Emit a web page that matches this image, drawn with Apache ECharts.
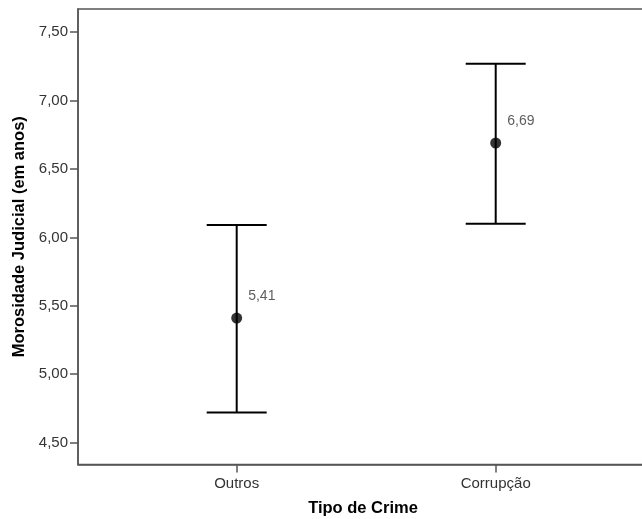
<!DOCTYPE html>
<html>
<head>
<meta charset="utf-8">
<script src="https://cdn.jsdelivr.net/npm/echarts@6/dist/echarts.min.js"></script>
<style>html,body{margin:0;padding:0;background:#fff;}#c{width:642px;height:519px;}</style>
</head>
<body>
<div id="c"></div>
<script>
var categories = ['Outros', 'Corrupção'];
var means = [5.41, 6.69];
var lowers = [4.72, 6.10];
var uppers = [6.09, 7.27];
var yTicks = [4.5, 5.0, 5.5, 6.0, 6.5, 7.0, 7.5];

var fmt = function (v) { return v.toFixed(2).replace('.', ','); };
var FONT = 'Liberation Sans, Arial, sans-serif';

var errData = categories.map(function (c, i) { return [i, lowers[i], uppers[i]]; });
var meanData = categories.map(function (c, i) { return [i, means[i]]; });

var chart = echarts.init(document.getElementById('c'), null, {renderer: 'canvas'});
chart.setOption({
  animation: false,
  backgroundColor: '#fff',
  grid: {left: 78, right: -6, top: 9, bottom: 54.5, outerBoundsMode: 'none', containLabel: false,
         show: true, borderColor: '#555', borderWidth: 1.5, backgroundColor: 'transparent'},
  xAxis: {
    type: 'value',
    min: -0.6127, max: 1.588,
    name: 'Tipo de Crime',
    nameLocation: 'middle',
    nameGap: 35,
    nameTextStyle: {fontFamily: FONT, fontSize: 16.5, fontWeight: 'bold', color: '#000'},
    axisLine: {show: true, onZero: false, lineStyle: {color: '#555', width: 1.5}},
    axisTick: {show: true, length: 8, customValues: [0, 1], lineStyle: {color: '#555', width: 1.5}},
    axisLabel: {customValues: [0, 1], margin: 12, fontFamily: FONT, fontSize: 15, color: '#333',
      formatter: function (v) { return categories[Math.round(v)] || ''; }},
    splitLine: {show: false}
  },
  yAxis: {
    type: 'value',
    min: 4.339, max: 7.670,
    name: 'Morosidade Judicial (em anos)',
    nameLocation: 'middle',
    nameGap: 47,
    nameRotate: 90,
    nameTextStyle: {fontFamily: FONT, fontSize: 16.5, fontWeight: 'bold', color: '#000'},
    axisLine: {show: true, onZero: false, lineStyle: {color: '#555', width: 1.5}},
    axisTick: {show: true, length: 8, customValues: yTicks, lineStyle: {color: '#555', width: 1.5}},
    axisLabel: {customValues: yTicks, margin: 10, fontFamily: FONT, fontSize: 15, color: '#333',
      formatter: function (v) { return fmt(v); }},
    splitLine: {show: false}
  },
  series: [
    {
      type: 'custom',
      data: errData,
      renderItem: function (params, api) {
        var x = api.value(0);
        var lo = api.coord([x, api.value(1)]);
        var hi = api.coord([x, api.value(2)]);
        var hw = 30;
        var st = {stroke: '#000', lineWidth: 2};
        return {
          type: 'group',
          children: [
            {type: 'line', shape: {x1: lo[0], y1: lo[1], x2: hi[0], y2: hi[1]}, style: st},
            {type: 'line', shape: {x1: hi[0] - hw, y1: hi[1], x2: hi[0] + hw, y2: hi[1]}, style: st},
            {type: 'line', shape: {x1: lo[0] - hw, y1: lo[1], x2: lo[0] + hw, y2: lo[1]}, style: st}
          ]
        };
      },
      z: 2
    },
    {
      type: 'scatter',
      data: meanData,
      symbol: 'circle',
      symbolSize: 11,
      itemStyle: {color: '#000'},
      label: {
        show: true, position: 'right', distance: 6, offset: [0, -22],
        fontFamily: FONT, fontSize: 14, color: '#333',
        formatter: function (p) { return fmt(p.value[1]); }
      },
      z: 3
    }
  ]
});
</script>
</body>
</html>
